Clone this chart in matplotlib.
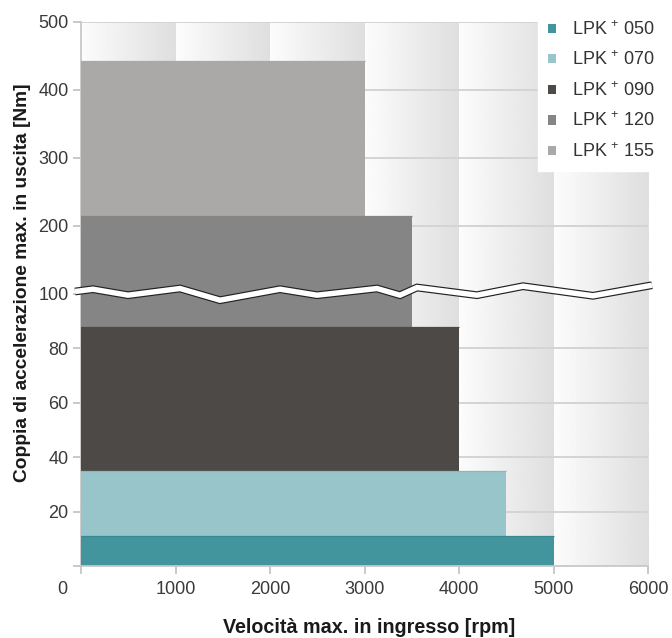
import numpy as np
import matplotlib
matplotlib.use("Agg")
import matplotlib.pyplot as plt
import matplotlib.transforms as mtrans
from matplotlib.patches import Patch

plt.rcParams['font.family'] = ['Liberation Sans', 'DejaVu Sans']
plt.rcParams['mathtext.fontset'] = 'custom'
plt.rcParams['mathtext.rm'] = 'Liberation Sans'

# ---- data ----
models = ["LPK$^{\\,+\\,}$050", "LPK$^{\\,+\\,}$070", "LPK$^{\\,+\\,}$090", "LPK$^{\\,+\\,}$120", "LPK$^{\\,+\\,}$155"]
max_speed = [5000, 4500, 4000, 3500, 3000]          # rpm
max_torque = [11, 35, 88, 215, 443]                  # Nm
colors = ["#42959d", "#98c5ca", "#4d4946", "#858585", "#aaa9a7"]
edge_colors = ["#3a8990", "#86b8be", "#4d4946", "#858585", "#aaa9a7"]
x_ticks = [0, 1000, 2000, 3000, 4000, 5000, 6000]
y_ticks = [0, 20, 40, 60, 80, 100, 200, 300, 400, 500]
y_ticklabels = ["", "20", "40", "60", "80", "100", "200", "300", "400", "500"]

BREAK = 100.0
SQUEEZE = 4.0

def fwd(y):
    y = np.asarray(y, dtype=float)
    return np.where(y <= BREAK, y, BREAK + (y - BREAK) / SQUEEZE)

def inv(y):
    y = np.asarray(y, dtype=float)
    return np.where(y <= BREAK, y, BREAK + (y - BREAK) * SQUEEZE)

W, H = 672, 638
fig = plt.figure(figsize=(W / 100, H / 100), dpi=100)
pos = [81 / W, 1 - 566 / H, 567 / W, 544 / H]

# background gradient columns
ax_bg = fig.add_axes(pos, zorder=0)
grad = np.linspace(0.988, 0.872, 100)
for k in range(6):
    ax_bg.imshow(grad[None, :], cmap='gray', vmin=0, vmax=1, aspect='auto',
                 extent=(k * 1000, (k + 1) * 1000, 0, 1), interpolation='bilinear')
ax_bg.set_xlim(0, 6000)
ax_bg.set_ylim(0, 1)
ax_bg.axis('off')

ax = fig.add_axes(pos, zorder=1)
ax.patch.set_alpha(0)
ax.set_yscale('function', functions=(fwd, inv))
ax.set_xlim(0, 6000)
ax.set_ylim(0, 500)

# gridlines
for yt in y_ticks[1:]:
    if yt != BREAK:
        ax.axhline(yt, color="#d4d4d4", lw=1.4, zorder=1)

# bars, largest behind
for i in reversed(range(len(models))):
    ax.bar(0, max_torque[i], width=max_speed[i], align='edge', color=colors[i],
           edgecolor='none', zorder=2 + (len(models) - i))
    ax.plot([0, max_speed[i]], [max_torque[i], max_torque[i]], color=edge_colors[i],
            lw=0.9, zorder=2 + (len(models) - i), solid_capstyle='butt')

ax.set_xticks(x_ticks)
ax.set_xticklabels([str(v) for v in x_ticks])
ax.set_yticks(y_ticks)
ax.set_yticklabels(y_ticklabels)
ax.yaxis.set_minor_locator(matplotlib.ticker.NullLocator())
ax.tick_params(axis='both', colors="#c0c0c0", labelcolor="#3a3a3a", labelsize=13,
               length=6, width=1.2, direction='out')
ax.tick_params(axis='x', pad=5)
ax.tick_params(axis='y', pad=3)
# shift "0" x-label to the corner
lbl0 = ax.get_xticklabels()[0]
lbl0.set_transform(lbl0.get_transform() + mtrans.ScaledTranslation(-19 / 100, 0, fig.dpi_scale_trans))

for s in ['right', 'top']:
    ax.spines[s].set_visible(False)
for s in ['left', 'bottom']:
    ax.spines[s].set_color("#c8c8c8")
    ax.spines[s].set_linewidth(1.3)
ax.spines['bottom'].set_zorder(10)

# axis break zigzag (axes-fraction decoration)
px = np.array([75, 93, 128, 180, 220, 280, 317, 377, 400, 417, 477, 523, 593, 652], dtype=float)
py = np.array([288, 285.7, 291.7, 285, 296.7, 285.7, 291.7, 285, 291.7, 284, 291.7, 282.7, 292.3, 281.7]) + 3.5
bx = (px - 81) / 567
by = (566 - py) / 544
ax.plot(bx, by, transform=ax.transAxes, color='#222222', lw=5.6, clip_on=False,
        solid_capstyle='butt', solid_joinstyle='miter', zorder=20)
ax.plot(bx, by, transform=ax.transAxes, color='white', lw=3.9, clip_on=False,
        solid_capstyle='butt', solid_joinstyle='miter', zorder=21)

ax.set_xlabel("Velocità max. in ingresso [rpm]", fontsize=14.2, fontweight='bold',
              color="#1a1a1a")
ax.xaxis.set_label_coords(0.508, -0.095)
ax.set_ylabel("Coppia di accelerazione max. in uscita [Nm]", fontsize=13.8, fontweight='bold',
              color="#1a1a1a")
ax.yaxis.set_label_coords(-0.088, 0.52)

handles = [Patch(facecolor=c, edgecolor='none') for c in colors]
leg = fig.legend(handles, models, loc='upper left',
                 bbox_to_anchor=(538 / W, 1 - 10 / H),
                 frameon=True, fancybox=False, framealpha=1, edgecolor='white',
                 fontsize=13, handlelength=0.42, handleheight=0.42, handletextpad=0.9,
                 labelspacing=0.66, borderpad=0.55, borderaxespad=0, labelcolor="#333333")
leg.set_zorder(30)

fig.savefig("out.png", dpi=100)
